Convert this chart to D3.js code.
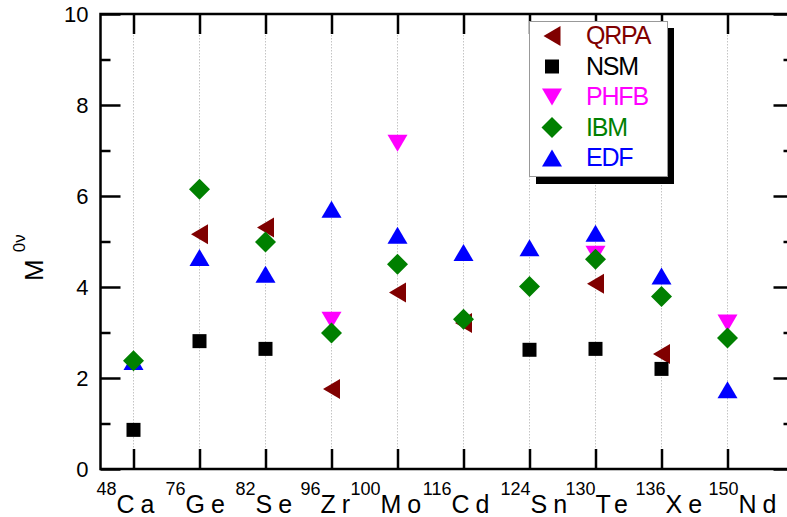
<!DOCTYPE html>
<html>
<head>
<meta charset="utf-8">
<script src="https://cdn.jsdelivr.net/npm/d3@7"></script>
<style>
  html, body { margin: 0; padding: 0; background: #fff; }
  svg { display: block; font-family: "Liberation Sans", Arial, sans-serif; }
</style>
</head>
<body>
<svg id="chart" width="787" height="517"></svg>
<script>
// ---- data ----
const elements    = ["Ca", "Ge", "Se", "Zr", "Mo", "Cd", "Sn", "Te", "Xe", "Nd"];
const massNumbers = ["48", "76", "82", "96", "100", "116", "124", "130", "136", "150"];
const qrpa = [null, 5.16, 5.31, 1.76, 3.88, 3.21, null, 4.07, 2.53, null];
const nsm  = [0.86, 2.81, 2.64, null, null, null, 2.62, 2.64, 2.20, null];
const phfb = [null, null, null, 3.27, 7.16, null, null, 4.72, null, 3.21];
const ibm  = [2.38, 6.15, 4.99, 2.99, 4.50, 3.29, 4.01, 4.61, 3.79, 2.88];
const edf  = [2.36, 4.65, 4.28, 5.71, 5.14, 4.76, 4.86, 5.18, 4.24, 1.74];
const yMajorTicks = [0, 2, 4, 6, 8, 10];
const yMinorTicks = [1, 3, 5, 7, 9];
const seriesNames = ["QRPA", "NSM", "PHFB", "IBM", "EDF"];

// ---- layout & styles ----
const labelNudge = [-16, -13, -9, -10, -16, -11, 2, 1, 5, 12]; // px shift of each tick label
const shapes = {
  left:    "M-8.5,0L8.5,-10L8.5,10Z",
  square:  "M-7,-7H7V7H-7Z",
  down:    "M-10,-8.5L10,-8.5L0,8.5Z",
  diamond: "M0,-10.5L10.5,0L0,10.5L-10.5,0Z",
  up:      "M-10,8.5L10,8.5L0,-8.5Z"
};
const series = {
  QRPA: { values: qrpa, shape: "left",    color: "#800000" },
  NSM:  { values: nsm,  shape: "square",  color: "#000000" },
  PHFB: { values: phfb, shape: "down",    color: "#ff00ff" },
  IBM:  { values: ibm,  shape: "diamond", color: "#008000" },
  EDF:  { values: edf,  shape: "up",      color: "#0000ff" }
};
const drawOrder = ["QRPA", "NSM", "PHFB", "EDF", "IBM"];

const svg = d3.select("#chart");
const x = d3.scaleLinear().domain([0.5, 11]).range([100.5, 793.5]);
const y = d3.scaleLinear().domain([0, 10]).range([469, 14]);
const idx = elements.map((d, i) => i + 1);

// grid lines
svg.append("g").selectAll("line").data(idx).join("line")
  .attr("x1", d => x(d)).attr("x2", d => x(d))
  .attr("y1", y(10)).attr("y2", y(0))
  .attr("stroke", "#c4c4c4").attr("stroke-width", 1)
  .attr("stroke-dasharray", "1.5,1.5");

// axes
function styleAxis(g) {
  g.select(".domain").remove();
  g.selectAll(".tick line").attr("stroke", "#000").attr("stroke-width", 2.5);
  g.selectAll("text").attr("font-size", 22).attr("fill", "#000")
    .attr("font-family", "Liberation Sans, Arial, sans-serif");
}
svg.append("g").attr("transform", `translate(${x(0.5)},0)`)
  .call(d3.axisLeft(y).tickValues(yMajorTicks).tickSizeInner(-20).tickSizeOuter(0).tickPadding(12).tickFormat(d3.format("d")))
  .call(styleAxis);
svg.append("g").attr("transform", `translate(${x(0.5)},0)`)
  .call(d3.axisLeft(y).tickValues(yMinorTicks).tickSizeInner(-10).tickSizeOuter(0).tickFormat(""))
  .call(styleAxis);
svg.append("g").attr("transform", `translate(${x(11)},0)`)
  .call(d3.axisRight(y).tickValues(yMajorTicks).tickSizeInner(-20).tickSizeOuter(0).tickFormat(""))
  .call(styleAxis);
svg.append("g").attr("transform", `translate(${x(11)},0)`)
  .call(d3.axisRight(y).tickValues(yMinorTicks).tickSizeInner(-10).tickSizeOuter(0).tickFormat(""))
  .call(styleAxis);
svg.append("g").attr("transform", `translate(0,${y(0)})`)
  .call(d3.axisBottom(x).tickValues(idx).tickSizeInner(-20).tickSizeOuter(0).tickFormat(""))
  .call(styleAxis);
svg.append("g").attr("transform", `translate(0,${y(10)})`)
  .call(d3.axisTop(x).tickValues(idx).tickSizeInner(-20).tickSizeOuter(0).tickFormat(""))
  .call(styleAxis);

// frame
svg.append("rect")
  .attr("x", x(0.5)).attr("y", y(10))
  .attr("width", x(11) - x(0.5)).attr("height", y(0) - y(10))
  .attr("fill", "none").attr("stroke", "#000").attr("stroke-width", 2.5);

// x labels (superscript mass number + element)
const xl = svg.append("g");
elements.forEach((el, i) => {
  const es = x(i + 1) + labelNudge[i] - 1;
  xl.append("text").attr("x", es).attr("y", 495)
    .attr("text-anchor", "end").attr("font-size", 18).text(massNumbers[i]);
  const t = xl.append("text").attr("x", es).attr("y", 513)
    .attr("text-anchor", "start").attr("font-size", 25);
  el.split("").forEach((ch, k) => {
    t.append("tspan").attr("dx", k === 0 ? 0 : 6).text(ch);
  });
});

// y label
const yl = svg.append("text")
  .attr("transform", "translate(43,281) rotate(-90)")
  .attr("font-size", 26);
yl.append("tspan").text("M");
yl.append("tspan").attr("font-size", 17).attr("dx", 7).attr("dy", -18).text("0ν");

// markers
drawOrder.forEach(name => {
  const s = series[name];
  const pts = s.values.map((v, i) => ({ v, i })).filter(d => d.v != null);
  svg.append("g").selectAll("path").data(pts).join("path")
    .attr("transform", d => `translate(${x(d.i + 1)},${y(d.v)})`)
    .attr("d", shapes[s.shape])
    .attr("fill", s.color);
});

// legend
const lg = svg.append("g");
lg.append("rect").attr("x", 536).attr("y", 28).attr("width", 138).attr("height", 156).attr("fill", "#000");
lg.append("rect").attr("x", 529.5).attr("y", 21.5).attr("width", 138).attr("height", 155)
  .attr("fill", "#fff").attr("stroke", "#999").attr("stroke-width", 1);
seriesNames.forEach((name, i) => {
  const s = series[name];
  const base = 44 + 30.5 * i;
  lg.append("path").attr("transform", `translate(552,${base - 8})`)
    .attr("d", shapes[s.shape]).attr("fill", s.color);
  lg.append("text").attr("x", 586).attr("y", base)
    .attr("font-size", 25).attr("letter-spacing", -1.2)
    .attr("fill", s.color).text(name);
});
</script>
</body>
</html>
